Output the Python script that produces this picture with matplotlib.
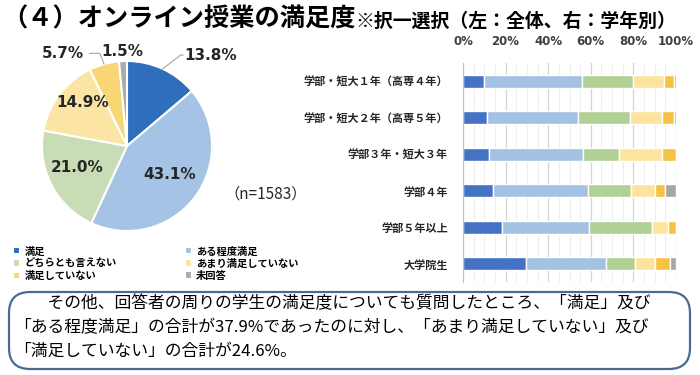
import matplotlib
matplotlib.use("Agg")
import matplotlib.pyplot as plt
import numpy as np
from matplotlib.patches import FancyBboxPatch

plt.rcParams['font.family'] = ['Noto Sans CJK JP', 'DejaVu Sans']

# data
categories = ["満足", "ある程度満足", "どちらとも言えない", "あまり満足していない", "満足していない", "未回答"]
overall = [13.8, 43.1, 21.0, 14.9, 5.7, 1.5]
n_total = 1583

groups = ["学部・短大１年（高専４年）", "学部・短大２年（高専５年）", "学部３年・短大３年",
          "学部４年", "学部５年以上", "大学院生"]
manzoku = [9.7, 11.3, 12.4, 14.1, 18.5, 29.7]
aru_teido = [46.2, 42.7, 43.8, 44.4, 40.7, 37.6]
dochira = [23.9, 24.3, 16.9, 20.3, 29.7, 13.3]
amari = [14.7, 15.3, 20.5, 11.3, 7.5, 9.4]
fumanzoku = [4.4, 5.6, 6.4, 4.9, 3.6, 7.4]
mikaito = [1.1, 0.8, 0.0, 5.0, 0.0, 2.7]
xticks = [0, 20, 40, 60, 80, 100]

pie_colors = ["#2E6EBB", "#A5C3E4", "#C8DDB5", "#FCE5A4", "#F7D673", "#ABABAB"]
bar_colors = ["#4472C4", "#A3C1E3", "#B0D094", "#FCE49E", "#F5C242", "#A5A5A5"]

W, H = 700, 375
fig = plt.figure(figsize=(7, 3.75), dpi=100)

# title
t1 = fig.text(2 / W, 1 - 19 / H, "（４）オンライン授業の満足度", fontsize=18.2, fontweight="bold",
              va="center", ha="left", color="black")
fig.canvas.draw()
bb = t1.get_window_extent()
fig.text(bb.x1 / W, 1 - 21 / H, "※択一選択（左：全体、右：学年別）", fontsize=13.6,
         fontweight="bold", va="center", ha="left", color="black")

# pie
cx, cy, r = 127, 146, 85
axp = fig.add_axes([(cx - r) / W, 1 - (cy + r) / H, 2 * r / W, 2 * r / H])
wedges, texts, autotexts = axp.pie(overall, colors=pie_colors, startangle=90, counterclock=False,
                                   autopct="%.1f%%", pctdistance=0.6,
                                   wedgeprops=dict(edgecolor="white", linewidth=1.5))
axp.set_xlim(-1, 1)
axp.set_ylim(-1, 1)
axp.axis("off")
label_pos = [(0.98, 1.07), (0.5, -0.34), (-0.59, -0.25), (-0.52, 0.51), (-0.75, 1.09), (-0.06, 1.11)]
for t, p in zip(autotexts, label_pos):
    t.set_position(p)
    t.set_fontsize(11)
    t.set_fontweight("bold")
    t.set_family("DejaVu Sans")
    t.set_color("#262626")
# leader lines for outside labels
for i, end in [(0, (0.66, 1.07)), (4, (-0.44, 1.09))]:
    w = wedges[i]
    ang = np.deg2rad((w.theta1 + w.theta2) / 2)
    p0 = (np.cos(ang), np.sin(ang))
    if i == 4:
        mid = (p0[0] - 0.05, 1.09)
        axp.plot([p0[0], mid[0], end[0]], [p0[1], mid[1], end[1]], color="#A6A6A6", lw=0.8, clip_on=False)
    else:
        axp.plot([p0[0], end[0] - 0.03, end[0]], [p0[1], end[1], end[1]], color="#A6A6A6", lw=0.8, clip_on=False)

fig.text(266 / W, 1 - 194 / H, "（n=%d）" % n_total, fontsize=11, ha="center", va="center",
         color="#262626")

# legend (row-wise order)
order = [0, 2, 4, 1, 3, 5]
fig.legend([wedges[i] for i in order], [categories[i] for i in order], ncol=2,
           loc="upper left", bbox_to_anchor=(4 / W, 1 - 237 / H), frameon=False,
           handlelength=0.7, handleheight=0.7, handletextpad=0.4,
           columnspacing=6.6, labelspacing=0.2, prop=dict(weight="bold", size=7.4))

# bar chart
left_px, right_px, top_px, bot_px = 463, 676, 63, 282
axb = fig.add_axes([left_px / W, 1 - bot_px / H, (right_px - left_px) / W, (bot_px - top_px) / H])
series = [manzoku, aru_teido, dochira, amari, fumanzoku, mikaito]
y = np.arange(len(groups))
left = np.zeros(len(groups))
for vals, col in zip(series, bar_colors):
    vals = np.array(vals)
    axb.barh(y, vals, left=left, height=0.36, color=col, edgecolor="white", linewidth=1.0, zorder=3)
    left += vals
axb.set_ylim(len(groups) - 0.5, -0.5)
axb.set_xlim(0, 100)
axb.set_xticks(xticks)
axb.set_xticklabels(["%d%%" % v for v in xticks], fontsize=8.5, fontweight="bold",
                    family="DejaVu Sans", color="#404040")
axb.set_xticks(np.arange(0, 101, 5), minor=True)
axb.xaxis.tick_top()
axb.tick_params(axis="x", which="both", length=0, pad=11)
axb.set_yticks(y)
axb.set_yticklabels(groups, fontsize=8, fontweight="bold", color="#262626")
axb.tick_params(axis="y", length=0, pad=11)
axb.grid(axis="x", which="major", color="#D4D4D4", lw=0.9, zorder=0)
axb.grid(axis="x", which="minor", color="#EDEDED", lw=0.8, zorder=0)
for s in ["top", "right", "bottom"]:
    axb.spines[s].set_visible(False)
axb.spines["left"].set_color("#BFBFBF")
axb.spines["left"].set_zorder(4)

# text box
box = FancyBboxPatch((9 / W, 1 - 369 / H), 681 / W, 77 / H,
                     boxstyle="round,pad=0,rounding_size=0.03", transform=fig.transFigure,
                     facecolor="white", edgecolor="#4A6A93", linewidth=1.6, mutation_aspect=W / H)
fig.patches.append(box)
lines = ["\u3000\u3000その他、回答者の周りの学生の満足度についても質問したところ、「満足」及び",
         "「ある程度満足」の合計が37.9%であったのに対し、「あまり満足していない」及び",
         "「満足していない」の合計が24.6%。"]
for k, s in enumerate(lines):
    fig.text(14 / W, 1 - (304 + 23.5 * k) / H, s, fontsize=12.1, ha="left", va="center", color="black")

fig.savefig("out.png", dpi=100)
